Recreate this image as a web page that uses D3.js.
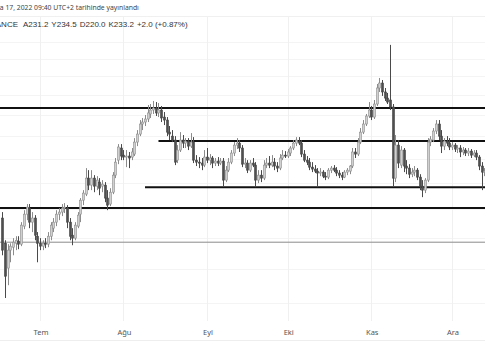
<!DOCTYPE html>
<html>
<head>
<meta charset="utf-8">
<script src="https://cdn.jsdelivr.net/npm/d3@7"></script>
<style>
  html, body { margin: 0; padding: 0; background: #fff; }
  svg { display: block; }
</style>
</head>
<body>
<svg id="chart" width="485" height="360"></svg>
<script>
// ---- DATA (BINANCE daily candles, 17 Jun 2022 onwards) ----
const firstDay = "2022-06-17";
const open = [233.6,216.3,200.5,211.8,213.7,216.3,217.7,215.7,227.9,236.4,240.8,230.7,233.6,221.0,216.3,214.4,216.3,215.7,221.0,226.5,230.7,236.4,237.9,240.8,240.8,230.7,221.7,219.7,227.9,236.4,
246.7,251.3,263.9,258.3,263.9,257.5,260.7,257.5,258.3,248.3,243.8,252.8,266.3,278.8,289.3,283.1,281.4,282.3,281.4,284.0,294.6,301.9,311.3,313.2,316.1,321.0,324.9,326.9,322.0,324.9,
318.0,315.1,303.7,300.0,296.4,278.8,287.5,296.4,293.7,295.5,291.0,294.6,278.8,277.1,276.3,274.6,281.4,278.8,280.6,276.3,278.0,276.3,278.0,262.3,270.4,277.1,284.9,291.9,293.7,289.3,
275.4,276.3,270.4,276.3,274.6,262.3,266.3,263.9,274.6,276.3,274.6,277.1,273.8,272.1,280.6,283.1,282.3,284.9,289.3,293.7,295.5,293.7,284.0,278.8,277.1,272.9,271.3,269.6,268.0,268.8,
265.5,264.7,270.4,272.1,270.4,268.0,266.3,264.7,268.8,269.6,273.8,285.8,284.0,294.6,303.7,311.3,319.0,324.9,318.0,330.9,347.5,352.8,343.3,337.0,335.0,327.9,263.9,291.9,274.6,287.5,
273.8,272.1,267.1,268.8,270.4,264.7,257.5,254.4,262.3,294.6,296.4,304.7,311.3,300.0,291.0,295.5,293.7,290.2,291.9,288.4,289.3,285.8,287.5,284.9,286.6,283.1,284.9,281.4,273.8,268.8];
const high = [237.9,218.3,215.7,216.3,219.7,221.0,221.0,230.7,239.3,243.8,243.8,237.9,235.7,223.8,219.7,218.3,219.7,223.8,230.7,233.6,239.3,240.8,243.8,244.5,243.0,233.6,226.5,230.7,237.9,248.3,
254.4,272.1,270.4,270.4,266.3,265.5,263.9,262.3,260.7,254.4,255.9,268.8,280.6,292.8,292.8,287.5,287.5,285.8,289.3,298.2,305.6,315.1,317.1,320.0,329.9,330.9,334.0,332.9,331.9,328.9,
322.9,318.0,309.4,305.6,300.0,291.9,303.7,301.0,298.2,298.2,302.8,299.1,283.1,281.4,280.6,287.5,289.3,284.0,282.3,280.6,281.4,280.6,280.6,273.8,280.6,287.5,294.6,298.2,296.4,291.9,
280.6,278.8,278.8,280.6,277.1,270.4,270.4,278.8,280.6,282.3,283.1,280.6,277.1,284.0,287.5,286.6,288.4,291.0,296.4,299.1,299.1,296.4,287.5,282.3,280.6,277.1,274.6,272.1,272.1,270.4,
268.8,272.1,273.8,274.6,272.9,270.4,268.8,270.4,272.1,274.6,289.3,289.3,298.2,307.5,315.1,321.0,332.9,328.9,335.0,351.8,358.3,356.1,347.5,342.3,396.4,330.9,301.0,296.4,291.0,289.3,
278.8,275.4,272.1,273.8,272.1,267.1,262.3,263.9,298.2,300.0,307.5,315.1,315.1,305.6,298.2,300.0,298.2,294.6,293.7,291.9,291.9,290.2,289.3,289.3,288.4,287.5,287.5,283.1,277.1,272.1];
const low = [208.5,183.0,190.3,204.1,208.5,211.8,212.4,214.4,225.8,232.1,226.5,223.8,218.3,204.1,211.8,211.8,213.1,213.7,218.3,223.8,227.9,232.1,235.0,237.2,226.5,218.3,215.0,218.3,226.5,230.7,
243.0,249.8,254.4,254.4,252.8,254.4,250.5,252.8,245.2,239.3,242.3,251.3,263.9,275.4,278.8,278.8,272.9,272.1,278.8,282.3,291.0,300.0,305.6,309.4,313.2,317.1,321.0,319.0,318.0,313.2,
310.3,300.0,296.4,294.6,274.6,276.3,285.8,289.3,289.3,287.5,289.3,276.3,273.8,272.1,270.4,272.9,276.3,274.6,272.1,273.8,273.8,274.6,257.5,260.7,268.8,275.4,282.3,288.4,285.8,272.9,
272.1,268.0,268.8,272.9,256.7,259.9,260.7,262.3,272.1,272.1,272.9,270.4,268.8,270.4,278.8,280.6,280.6,282.3,287.5,291.0,291.9,281.4,277.1,274.6,270.4,268.8,268.0,256.7,265.5,263.9,
262.3,263.1,268.0,268.8,265.5,263.9,262.3,263.9,266.3,267.1,272.1,280.6,282.3,292.8,301.9,309.4,317.1,315.1,316.1,328.9,343.3,339.2,334.0,330.9,324.9,257.5,260.7,272.1,272.1,268.8,
267.1,263.9,264.7,265.5,262.3,254.4,249.0,252.1,260.7,291.0,294.6,301.9,296.4,284.9,287.5,291.0,287.5,287.5,285.8,284.9,281.4,283.1,282.3,282.3,280.6,281.4,278.8,270.4,254.4,265.5];
const close = [211.8,195.6,211.8,214.4,217.0,218.3,215.7,228.6,236.4,241.5,230.7,233.6,221.7,216.3,214.4,216.3,215.7,221.0,228.6,230.7,236.4,237.9,240.8,241.5,230.7,221.0,219.7,228.6,235.7,246.7,
252.1,263.9,258.3,263.9,257.5,262.3,255.9,259.1,248.3,243.0,252.8,266.3,277.1,290.2,282.3,281.4,282.3,280.6,285.8,294.6,301.9,311.3,313.2,316.1,322.0,324.9,326.9,322.0,324.9,317.1,
315.1,303.7,301.9,296.4,277.1,287.5,296.4,293.7,295.5,291.0,294.6,278.8,277.1,276.3,274.6,281.4,278.8,280.6,276.3,278.0,276.3,278.0,262.3,270.4,277.1,284.9,291.9,293.7,289.3,275.4,
276.3,270.4,276.3,274.6,262.3,266.3,263.9,274.6,276.3,274.6,277.1,273.8,272.1,280.6,283.1,282.3,285.8,289.3,293.7,296.4,293.7,284.0,278.8,277.1,272.9,271.3,269.6,268.0,268.8,265.5,
264.7,270.4,272.1,270.4,268.0,266.3,264.7,268.8,270.4,273.8,285.8,284.0,294.6,303.7,311.3,319.0,324.9,318.0,330.9,347.5,352.8,343.3,337.0,332.9,327.9,263.9,291.9,276.3,287.5,273.8,
272.1,267.1,268.8,270.4,264.7,257.5,254.4,262.3,294.6,297.3,304.7,311.3,300.0,291.0,295.5,293.7,290.2,291.9,288.4,289.3,285.8,287.5,284.9,286.6,283.1,284.9,281.4,273.8,268.8,269.6];

// month tick labels
const monthLabels = ["Tem", "Ağu", "Eyl", "Eki", "Kas", "Ara"];
const monthDates = ["2022-07-01", "2022-08-01", "2022-09-01", "2022-10-01", "2022-11-01", "2022-12-01"];

// drawn horizontal levels (price, start date or null for full width)
const levelPrices = [326.9, 295.5, 256.7, 240.8, 217.0];
const levelStarts = [null, "2022-08-14", "2022-08-09", null, null];
const levelThin = [false, false, false, false, true];

// header texts
const headerLine1 = "Ara 17, 2022 09:40 UTC+2 tarihinde yayınlandı";
const headerSymbol = "BINANCE";
const ohlcLabels = ["A231.2", "Y234.5", "D220.0", "K233.2", "+2.0 (+0.87%)"];

// ---- DRAW ----
const W = 485, H = 360;
const parse = d3.timeParse("%Y-%m-%d");
const start = parse(firstDay);
const candles = open.map((o, i) => ({
  date: d3.timeDay.offset(start, i), o, h: high[i], l: low[i], c: close[i]
}));

const svg = d3.select("#chart");
const plotTop = 17, plotBottom = 321;

const x = d3.scaleTime()
  .domain([parse("2022-07-01"), parse("2022-12-01")])
  .range([40, 452]);
const y = d3.scaleLog()
  .domain([183, 335])
  .range([298, 100]);

svg.append("defs").append("clipPath").attr("id", "plotclip")
  .append("rect").attr("x", 0).attr("y", plotTop).attr("width", W).attr("height", plotBottom - plotTop);

// header separator + bottom line
svg.append("line").attr("x1", 0).attr("x2", W).attr("y1", 16.5).attr("y2", 16.5)
  .attr("stroke", "#f0f0f0").attr("stroke-width", 1);
svg.append("line").attr("x1", 0).attr("x2", W).attr("y1", 340.5).attr("y2", 340.5)
  .attr("stroke", "#eeeeee").attr("stroke-width", 1);

const plot = svg.append("g").attr("clip-path", "url(#plotclip)");

// grid
const gridPrices = d3.range(180, 420, 20);
plot.append("g").selectAll("line").data(gridPrices).join("line")
  .attr("x1", 0).attr("x2", W)
  .attr("y1", d => Math.round(y(d)) + 0.5).attr("y2", d => Math.round(y(d)) + 0.5)
  .attr("stroke", "#f4f4f4").attr("stroke-width", 1);
plot.append("g").selectAll("line").data(monthDates).join("line")
  .attr("x1", d => Math.round(x(parse(d))) + 0.5).attr("x2", d => Math.round(x(parse(d))) + 0.5)
  .attr("y1", plotTop).attr("y2", plotBottom)
  .attr("stroke", "#f0f0f0").attr("stroke-width", 1);

// levels
plot.append("g").selectAll("line").data(levelPrices).join("line")
  .attr("x1", (d, i) => levelStarts[i] ? x(parse(levelStarts[i])) : 0)
  .attr("x2", W)
  .attr("y1", d => y(d)).attr("y2", d => y(d))
  .attr("stroke", (d, i) => levelThin[i] ? "#8a8a8a" : "#111")
  .attr("stroke-width", (d, i) => levelThin[i] ? 1 : 2);

// candles
const bodyW = 2;
const cg = plot.append("g");
cg.selectAll("line.wick").data(candles).join("line")
  .attr("class", "wick")
  .attr("x1", d => Math.round(x(d.date)) + 0.5)
  .attr("x2", d => Math.round(x(d.date)) + 0.5)
  .attr("y1", d => y(d.h)).attr("y2", d => y(d.l))
  .attr("stroke", d => d.c >= d.o ? "#8c8c8c" : "#4a4a4a")
  .attr("stroke-width", 1);
cg.selectAll("rect.body").data(candles).join("rect")
  .attr("class", "body")
  .attr("x", d => Math.round(x(d.date)) - 0.5)
  .attr("width", bodyW)
  .attr("y", d => y(Math.max(d.o, d.c)))
  .attr("height", d => Math.max(1, Math.abs(y(d.o) - y(d.c))))
  .attr("fill", d => d.c >= d.o ? "#d0d0d0" : "#4f4f4f")
  .attr("stroke", d => d.c >= d.o ? "#8c8c8c" : "#444")
  .attr("stroke-width", 0.6);

// month labels
const font = "'Noto Sans', 'Open Sans', sans-serif";
svg.append("g").selectAll("text").data(monthLabels).join("text")
  .attr("x", (d, i) => x(parse(monthDates[i])) + 1)
  .attr("y", 335)
  .attr("text-anchor", "middle")
  .attr("font-family", font)
  .attr("font-size", 7.5)
  .attr("fill", "#555")
  .text(d => d);

// header line 1 (left part clipped by the frame, as in the snapshot)
const fs1 = 6.8;
const probe = svg.append("text").attr("font-family", font).attr("font-size", fs1).text("Ar");
const arW = probe.node().getComputedTextLength();
probe.remove();
svg.append("text").attr("x", -arW).attr("y", 10)
  .attr("font-family", font).attr("font-size", fs1).attr("fill", "#444")
  .text(headerLine1);

// header line 2: symbol (clipped on the left) then OHLC groups laid out in sequence
const font2 = "'Liberation Sans', Arial, sans-serif";
const fs2 = 8;
svg.append("text").attr("x", 18).attr("y", 27)
  .attr("text-anchor", "end")
  .attr("font-family", font2).attr("font-size", fs2).attr("fill", "#333")
  .text(headerSymbol);
const g2 = svg.append("g");
const els = ohlcLabels.map(t => g2.append("text").attr("y", 27)
  .attr("font-family", font2).attr("font-size", fs2).attr("fill", "#333")
  .text(t));
const widths = els.map(e => e.node().getComputedTextLength());
const gap = Math.max(3, (166 - 23 - d3.sum(widths)) / (els.length - 1));
let cx = 23;
els.forEach((e, i) => { e.attr("x", cx); cx += widths[i] + gap; });
</script>
</body>
</html>
